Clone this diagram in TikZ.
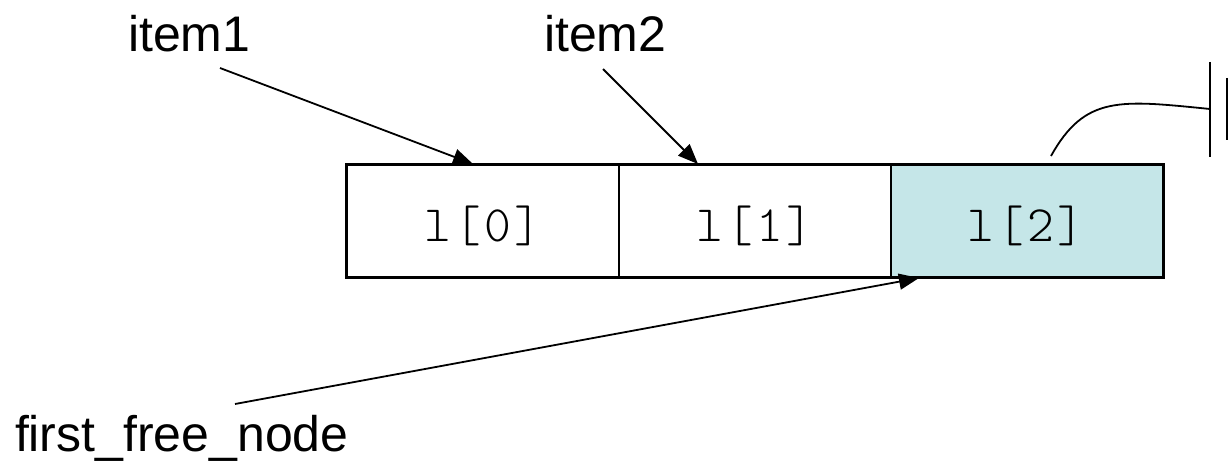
\documentclass[tikz,border=0pt]{standalone}
\usepackage{fontspec}
\setmainfont{Liberation Sans}
\setmonofont{Latin Modern Mono Light}[LetterSpace=6]
\usetikzlibrary{arrows.meta}
\definecolor{cellfill}{HTML}{C5E6E8}
\begin{document}
\begin{tikzpicture}[x=1pt,y=-1pt,
  line width=2pt,
  cellbox/.style={draw,rectangle,minimum width=272pt,minimum height=112pt,inner sep=0pt},
  idx/.style={anchor=base,font=\fontsize{51}{60}\selectfont\ttfamily,inner sep=0pt},
  lbl/.style={anchor=base west,font=\fontsize{50}{60}\selectfont,inner sep=0pt},
  ptr/.style={-{Triangle[length=20pt,width=16pt]},line width=1.8pt}]
\useasboundingbox (0,0) rectangle (1232,465);

% the three list cells
\node[cellbox] (c0) at (482.5,221) {};
\node[cellbox] (c1) at (754.5,221) {};
\node[cellbox,fill=cellfill] (c2) at (1027,221) {};
\draw (c0.north west) rectangle (c2.south east);

\node[idx] (t0) at (483,242) {l[0]};
\node[idx] (t1) at (755,242) {l[1]};
\node[idx] (t2) at (1026,242) {l[2]};

% pointer names
\node[lbl] (item1) at (127,52) {item1};
\node[lbl] (item2) at (543,52) {item2};
\node[lbl] (ffn) at (14,451) {first\_free\_node};

\coordinate (s1) at (220,68);
\coordinate (s2) at (603,69);
\coordinate (s3) at (235,404);
\draw[ptr] (s1) -- ([xshift=-9.5pt]c0.north);
\draw[ptr] (s2) -- ([xshift=-56.5pt]c1.north);
\draw[ptr] (s3) -- ([xshift=29pt]c2.south west);

% link from the last cell to the ground symbol
\coordinate (g) at (1210,109);
\draw[line width=1.8pt] ([xshift=24pt,yshift=8pt]c2.north) .. controls (1085,95) and (1120,100) .. (g);
\draw (1210,62) -- (1210,157);
\draw (1227,78) -- (1227,140);
\end{tikzpicture}
\end{document}
